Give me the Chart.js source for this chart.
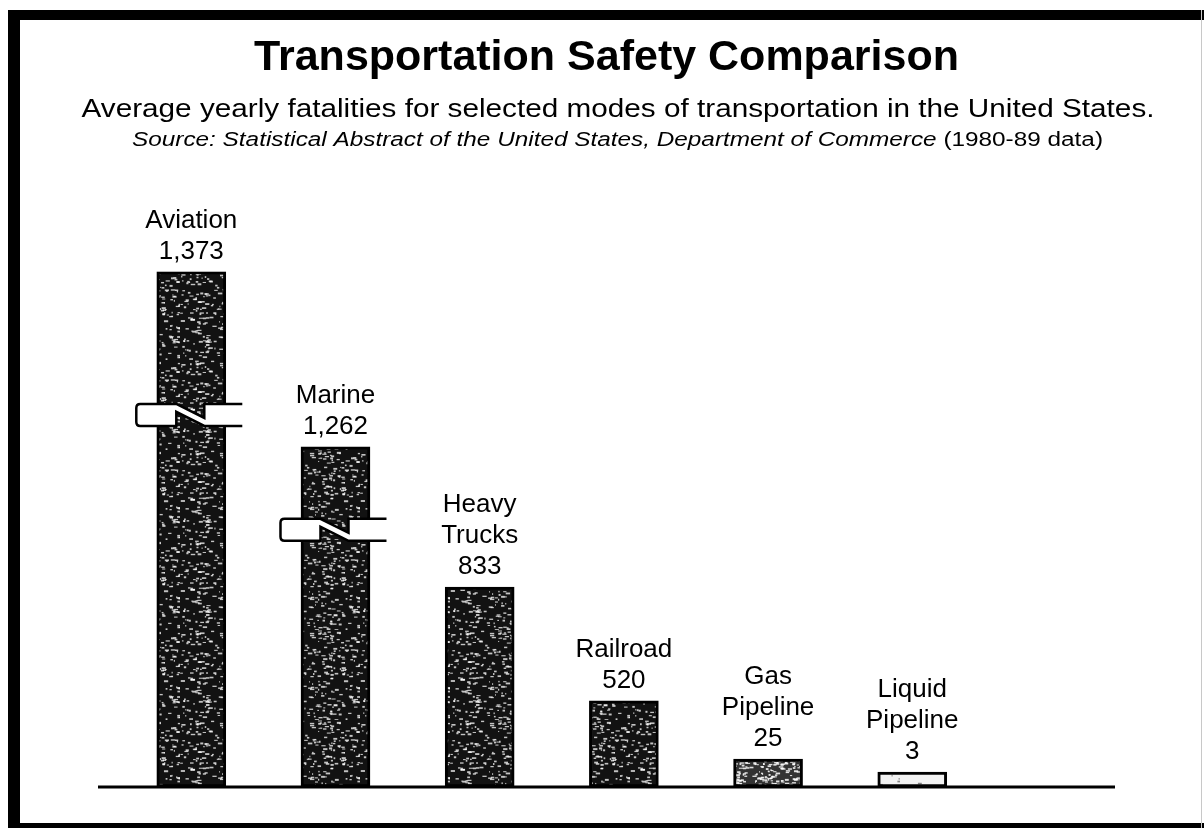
<!DOCTYPE html>
<html>
<head>
<meta charset="utf-8">
<script src="https://cdn.jsdelivr.net/npm/chart.js@4/dist/chart.umd.min.js"></script>
<style>
  html, body { margin: 0; padding: 0; background: #fff; }
  #wrap { width: 1204px; height: 828px; position: relative; }
</style>
</head>
<body>
<div id="wrap"><canvas id="chart" width="1204" height="828"></canvas></div>
<script>
// Data
const categories = [['Aviation'], ['Marine'], ['Heavy', 'Trucks'], ['Railroad'], ['Gas', 'Pipeline'], ['Liquid', 'Pipeline']];
const fatalities = [1373, 1262, 833, 520, 25, 3];
// bar heights as drawn on the original's broken scale (% of tallest bar)
const drawnHeights = [100, 66, 38.8, 16.7, 5.4, 2.9];
// where the break symbol sits on a bar (same units), null = no break
const breakAt = [72.2, 49.9, null, null, null, null];
const slots = [0, 1, 2, 3, 4, 5];

const FONT = "'Liberation Sans', Arial, Helvetica, sans-serif";

// speckled ink texture for the bars (deterministic)
function makeTexture(base, speck, count) {
    const c = document.createElement('canvas');
    c.width = 90; c.height = 90;
    const g = c.getContext('2d');
    g.fillStyle = base;
    g.fillRect(0, 0, 90, 90);
    let seed = 12345;
    const rnd = () => { seed = (seed * 1103515245 + 12345) % 2147483648; return seed / 2147483648; };
    g.fillStyle = speck;
    for (let i = 0; i < count; i++) {
        const x = rnd() * 90, y = rnd() * 90;
        const w = 1 + rnd() * 3.5, h = 1 + rnd();
        g.fillRect(x, y, w, h);
    }
    return g.createPattern(c, 'repeat');
}

// draw text stretched to a given width (the scan's lettering runs wide)
function wideText(c, text, cx, y, width) {
    const w = c.measureText(text).width;
    c.save();
    c.translate(cx, y);
    c.scale(width / w, 1);
    c.textAlign = 'center';
    c.fillText(text, 0, 0);
    c.restore();
}

const ctx = document.getElementById('chart').getContext('2d');
const darkInk = makeTexture('#121212', 'rgba(255,255,255,0.75)', 330);
const greyInk = makeTexture('#333333', 'rgba(255,255,255,0.85)', 800);
const lightInk = makeTexture('#f2f2f2', 'rgba(60,60,60,0.6)', 120);
const fills = [darkInk, darkInk, darkInk, darkInk, greyInk, lightInk];

const framePlugin = {
    id: 'frame',
    beforeDraw(chart) {
        const c = chart.ctx;
        c.save();
        c.fillStyle = '#fff';
        c.fillRect(0, 0, chart.width, chart.height);
        c.fillStyle = '#000';
        c.fillRect(8, 10, chart.width - 8, 10);   // top
        c.fillRect(8, 10, 12, chart.height - 10); // left
        c.fillRect(8, 823, chart.width - 8, 5);   // bottom
        c.fillStyle = '#c8c8c8';
        c.fillRect(1201, 10, 1, chart.height - 10); // right (faint)

        // subtitle + source line
        c.fillStyle = '#000';
        c.textBaseline = 'alphabetic';
        c.font = '26px ' + FONT;
        wideText(c, 'Average yearly fatalities for selected modes of transportation in the United States.', 618, 117, 1073);

        const ital = 'Source: Statistical Abstract of the United States, Department of Commerce';
        const reg = ' (1980-89 data)';
        c.font = 'italic 20px ' + FONT;
        const w1 = c.measureText(ital).width;
        c.font = '20px ' + FONT;
        const w2 = c.measureText(reg).width;
        const k = 971 / (w1 + w2);
        c.save();
        c.translate(132, 146);
        c.scale(k, 1);
        c.textAlign = 'left';
        c.font = 'italic 20px ' + FONT;
        c.fillText(ital, 0, 0);
        c.font = '20px ' + FONT;
        c.fillText(reg, w1, 0);
        c.restore();
        c.restore();
    }
};

const decorPlugin = {
    id: 'decor',
    afterDatasetsDraw(chart) {
        const c = chart.ctx;
        const area = chart.chartArea;
        const yScale = chart.scales.y;
        const bars = chart.getDatasetMeta(0).data;
        c.save();

        // break symbols
        bars.forEach((bar, i) => {
            if (breakAt[i] == null) return;
            const xm = bar.x;
            const ym = yScale.getPixelForValue(breakAt[i]);
            const yt = ym - 11, yb = ym + 11;
            const x0 = xm - 55, x1 = xm + 51, r = 4;
            c.beginPath();
            c.moveTo(x1, yt);
            c.lineTo(xm + 13, yt);
            c.lineTo(xm + 13, yb - 8);
            c.lineTo(xm - 15, yt);
            c.lineTo(x0 + r, yt);
            c.quadraticCurveTo(x0, yt, x0, yt + r);
            c.lineTo(x0, yb - r);
            c.quadraticCurveTo(x0, yb, x0 + r, yb);
            c.lineTo(xm - 15, yb);
            c.lineTo(xm - 15, yt + 8);
            c.lineTo(xm + 13, yb);
            c.lineTo(x1, yb);
            c.fillStyle = '#fff';
            c.fill();
            c.strokeStyle = '#000';
            c.lineWidth = 2.5;
            c.stroke();
        });

        // baseline
        const y0 = yScale.getPixelForValue(0);
        c.fillStyle = '#000';
        c.fillRect(area.left, y0 - 1.5, area.right - area.left, 3);

        // labels above bars
        c.font = '26px ' + FONT;
        c.textAlign = 'center';
        c.textBaseline = 'alphabetic';
        bars.forEach((bar, i) => {
            const lines = categories[i].concat([fatalities[i].toLocaleString('en-US')]);
            let y = bar.y - 13;
            for (let k = lines.length - 1; k >= 0; k--) {
                c.fillText(lines[k], bar.x, y);
                y -= 31;
            }
        });
        c.restore();
    }
};

new Chart(ctx, {
    type: 'bar',
    data: {
        datasets: [{
            data: slots.map((s, i) => ({ x: s, y: drawnHeights[i] })),
            backgroundColor: fills,
            borderColor: '#000',
            borderWidth: 3,
            borderSkipped: false,
            barThickness: 69
        }]
    },
    options: {
        responsive: false,
        animation: false,
        layout: {
            padding: { top: 10, left: 98, right: 89, bottom: 41 }
        },
        scales: {
            x: { type: 'linear', min: -0.647, max: 6.406, offset: false, display: false },
            y: { min: 0, max: 100, display: false }
        },
        plugins: {
            legend: { display: false },
            tooltip: { enabled: false },
            title: {
                display: true,
                text: 'Transportation Safety Comparison',
                color: '#000',
                font: { family: FONT, size: 43, weight: 'bold', lineHeight: 1.2 },
                padding: { top: 22, bottom: 188 }
            }
        }
    },
    plugins: [framePlugin, decorPlugin]
});
</script>
</body>
</html>
